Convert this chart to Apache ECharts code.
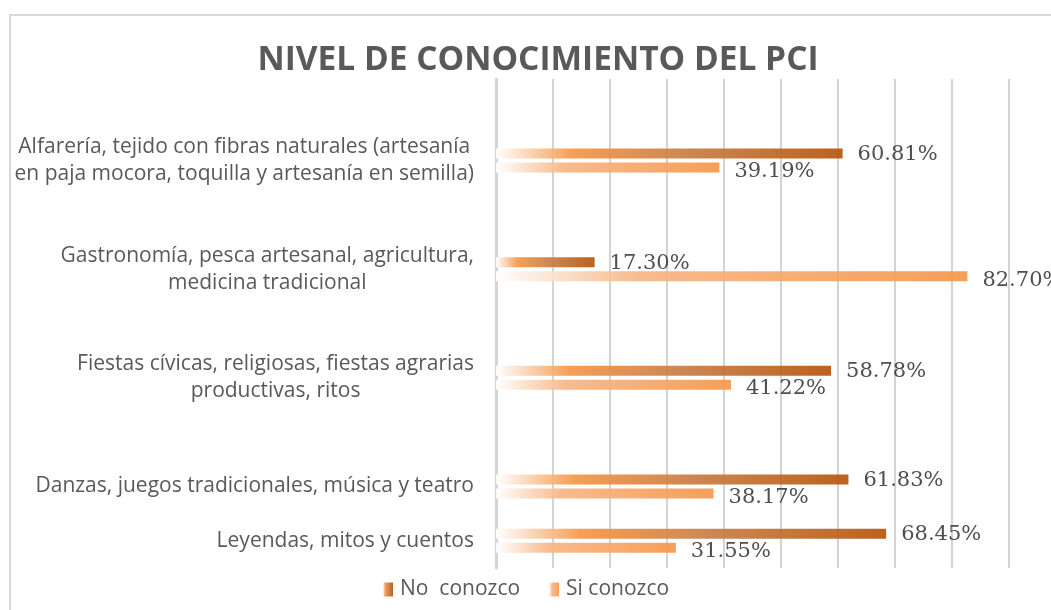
<!DOCTYPE html>
<html>
<head>
<meta charset="utf-8">
<script src="https://cdn.jsdelivr.net/npm/echarts@6/dist/echarts.min.js"></script>
<style>
  html, body { margin: 0; padding: 0; background: #fff; overflow: hidden; width: 1051px; height: 610px; }
  #frame {
    position: absolute; left: 9px; top: 14px; width: 1200px; height: 800px;
    border: 2px solid #d9d9d9; box-sizing: border-box;
  }
  #chart { position: absolute; left: 0; top: 0; width: 1068px; height: 610px; }
</style>
</head>
<body>
<div id="frame"></div>
<div id="chart"></div>
<script>
// categories from bottom to top; blank slots keep Excel's uneven spacing
const categories = [
  'Leyendas, mitos y cuentos',
  'Danzas, juegos tradicionales, música y teatro',
  '',
  'Fiestas cívicas, religiosas, fiestas agrarias\nproductivas, ritos',
  '',
  'Gastronomía, pesca artesanal, agricultura,\nmedicina tradicional',
  '',
  'Alfarería, tejido con fibras naturales (artesanía\nen paja mocora, toquilla y artesanía en semilla)',
  ''
];
const noConozco = [68.45, 61.83, null, 58.78, null, 17.30, null, 60.81, null];
const siConozco = [31.55, 38.17, null, 41.22, null, 82.70, null, 39.19, null];
const xTicks = [0, 10, 20, 30, 40, 50, 60, 70, 80, 90, 100];

const chart = echarts.init(document.getElementById('chart'));

const gradNo = new echarts.graphic.LinearGradient(0, 0, 1, 0, [
  { offset: 0, color: 'rgba(255,255,255,1)' },
  { offset: 0.22, color: '#f59647' },
  { offset: 0.55, color: '#c97d45' },
  { offset: 1, color: '#b5550b' }
]);
const gradSi = new echarts.graphic.LinearGradient(0, 0, 1, 0, [
  { offset: 0, color: 'rgba(255,255,255,1)' },
  { offset: 0.3, color: '#f8b584' },
  { offset: 1, color: '#f5974a' }
]);

const labelStyle = {
  show: true,
  position: 'right',
  distance: 15,
  fontFamily: 'DejaVu Serif',
  fontSize: 21,
  color: '#404040',
  formatter: p => p.value.toFixed(2) + '%'
};

chart.setOption({
  animation: false,
  title: {
    text: 'NIVEL DE CONOCIMIENTO DEL PCI',
    left: 533,
    top: 38,
    textAlign: 'center',
    textStyle: { fontFamily: 'Open Sans', fontWeight: 'bold', fontSize: 33.5, color: '#595959' }
  },
  legend: {
    data: ['No  conozco', 'Si conozco'],
    bottom: 5,
    left: 378,
    itemWidth: 10,
    itemHeight: 14,
    itemGap: 29,
    icon: 'rect',
    textStyle: { fontFamily: 'Open Sans', fontSize: 21, color: '#595959', padding: [0, 0, 0, 2] }
  },
  grid: { left: 496, right: 2, top: 79, bottom: 42, containLabel: false },
  xAxis: {
    type: 'value',
    min: xTicks[0],
    max: xTicks[xTicks.length - 1],
    interval: 10,
    axisLabel: { show: false },
    axisLine: { show: false },
    axisTick: { show: false },
    splitLine: { show: true, lineStyle: { color: '#d4d4d4', width: 2 } }
  },
  yAxis: {
    type: 'category',
    data: categories,
    axisTick: { show: false },
    axisLine: { show: true, lineStyle: { color: '#d4d4d4', width: 3 } },
    axisLabel: {
      margin: 22,
      align: 'right',
      fontFamily: 'Open Sans',
      fontSize: 21,
      lineHeight: 27,
      color: '#595959',
      formatter: v => v.split('\n').map(s => '{c|' + s + '}').join('\n'),
      rich: { c: { align: 'center', fontFamily: 'Open Sans', fontSize: 21, lineHeight: 27, color: '#595959' } }
    }
  },
  series: [
    {
      name: 'No  conozco',
      type: 'bar',
      data: noConozco,
      barWidth: 10,
      barGap: '40%',
      itemStyle: { color: gradNo, opacity: 0.92 },
      label: Object.assign({}, labelStyle, { offset: [0, 1] })
    },
    {
      name: 'Si conozco',
      type: 'bar',
      data: siConozco,
      barWidth: 10,
      barGap: '40%',
      itemStyle: { color: gradSi, opacity: 0.92 },
      label: Object.assign({}, labelStyle, { offset: [0, 4] })
    }
  ]
});
</script>
</body>
</html>
